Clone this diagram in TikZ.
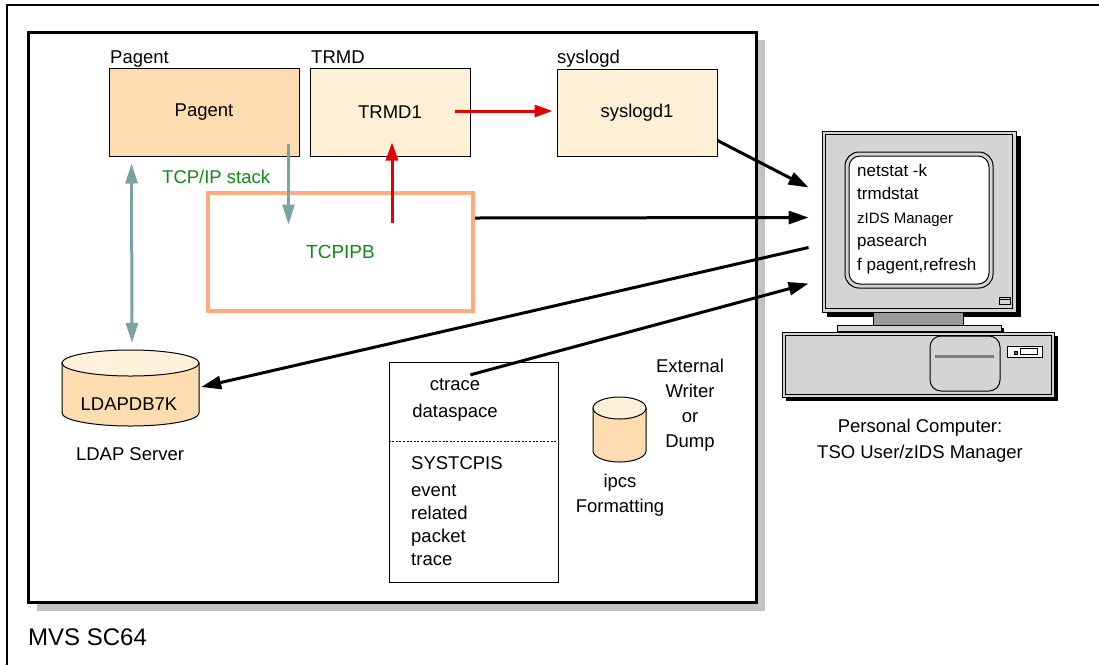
\documentclass[tikz,border=0pt]{standalone}
\usepackage{fontspec}
\setmainfont{Liberation Sans}
\usetikzlibrary{arrows.meta,calc}

\definecolor{pagentfill}{HTML}{FDDCAF}
\definecolor{creamfill}{HTML}{FFF0D6}
\definecolor{drumbody}{HTML}{FDDCAF}
\definecolor{drumtop}{HTML}{FFF1DA}
\definecolor{tealline}{HTML}{7BA3A3}
\definecolor{redline}{HTML}{E20000}
\definecolor{greentext}{HTML}{128A12}
\definecolor{orangeline}{HTML}{FFAA80}
\definecolor{shadowgray}{HTML}{C2C2C2}
\definecolor{pcgray}{HTML}{D4D4D4}
\definecolor{neckgray}{HTML}{9A9A9A}

% cylinder: centre x, top-ellipse y, bottom-ellipse y, x radius, y radius
\newcommand\drawdrum[5]{%
  \pgfmathsetmacro\drumL{#1-#4}\pgfmathsetmacro\drumR{#1+#4}%
  \filldraw[fill=drumbody,line width=1pt] (\drumL,#2) -- (\drumL,#3)
    arc[start angle=180,end angle=360,x radius=#4pt,y radius=#5pt] -- (\drumR,#2) -- cycle;
  \filldraw[fill=drumtop,line width=1pt] (#1,#2) ellipse[x radius=#4pt,y radius=#5pt];}

\tikzset{
  txt/.style={inner sep=0pt,font=\fontsize{18.5}{25}\selectfont},
  procbox/.style={draw,line width=1pt,inner sep=0pt,font=\fontsize{18.5}{25}\selectfont},
  blackarrow/.style={line width=3pt,-{Triangle[length=20pt,width=13pt]}},
  redarrow/.style={draw=redline,line width=3pt,-{Triangle[length=18pt,width=12pt]}},
  tealarrow/.style={draw=tealline,line width=3pt,-{Triangle[length=20pt,width=12pt]}},
  tealboth/.style={draw=tealline,line width=3pt,{Triangle[length=20pt,width=12pt]}-{Triangle[length=20pt,width=12pt]}},
}

\begin{document}
\begin{tikzpicture}[x=1pt,y=-1pt]
\useasboundingbox (0,0) rectangle (1099,665);

% outer page frame
\draw[line width=1.3pt] (7,665) -- (7,5) -- (1099,5);

% MVS system frame with drop shadow
\fill[shadowgray] (37,40) rectangle (765,611);
\draw[line width=3pt,fill=white] (28,32) rectangle (756,602);
\node[txt,anchor=base west,font=\fontsize{24}{28}\selectfont] (mvs) at (28,645) {MVS SC64};

% address spaces
\node[txt,anchor=base west] (pagentlbl) at (110,63) {Pagent};
\node[txt,anchor=base west] (trmdlbl) at (311,63) {TRMD};
\node[txt,anchor=base west] (sysloglbl) at (557,63) {syslogd};
\node[procbox,fill=pagentfill,minimum width=190pt,minimum height=88pt] (pagent) at (204,112) {Pagent};
\node[procbox,fill=creamfill,minimum width=160pt,minimum height=88pt] (trmd) at (390,112) {TRMD1};
\node[procbox,fill=creamfill,minimum width=160pt,minimum height=87pt] (syslog) at (637,112.5) {syslogd1};

% TCP/IP stack
\node[txt,anchor=base west,text=greentext] (stacklbl) at (162,183) {TCP/IP stack};
\node[draw=orangeline,line width=4pt,minimum width=265pt,minimum height=118pt,inner sep=0pt,
      text=greentext,font=\fontsize{19}{23}\selectfont] (tcpipb) at (340.5,252) {TCPIPB};

% LDAP server database
\drawdrum{130.5}{363}{413}{68.5}{13}
\node[minimum width=137pt,minimum height=77pt,inner sep=0pt] (ldap) at (130.5,388.5) {};
\node[txt,anchor=base] (ldapdb) at (129,410) {LDAPDB7K};
\node[txt,anchor=base] (ldapsrv) at (130,460) {LDAP Server};

% component trace dataspace
\node[draw,line width=1pt,minimum width=169pt,minimum height=220pt,inner sep=0pt] (ctracebox) at (473.5,472) {};
\draw[line width=0.8pt,dash pattern=on 2pt off 1.6pt] (ctracebox.west |- 0,441) -- (ctracebox.east |- 0,441);
\node[txt,anchor=base] (ctrace) at (455,390) {ctrace};
\node[txt,anchor=base] (dataspace) at (455,417) {dataspace};
\node[txt,anchor=base west] (systcpis) at (411,469) {SYSTCPIS};
\node[txt,anchor=north west,align=left,font=\fontsize{18.5}{23}\selectfont] (evtrace) at (411,484) {event\\related\\packet\\trace};

% external writer / dump dataset
\drawdrum{619.5}{408}{451}{26.5}{11}
\node[txt,anchor=north,align=center] (ipcs) at (620,473.5) {ipcs\\Formatting};
\node[txt,anchor=north,align=center] (extwriter) at (690,358.5) {External\\Writer\\or\\Dump};

% personal computer: monitor
\fill[black] (827,136) rectangle (1021,317);
\node[draw,line width=1pt,fill=pcgray,minimum width=194pt,minimum height=181pt,inner sep=0pt] (monitor) at (919,221.5) {};
\draw[line width=0.8pt] (825.5,134.5) rectangle (1012.5,308.5);
\draw[line width=1pt,fill=pcgray,rounded corners=14pt] (845,152) rectangle (993,288);
\draw[line width=1pt,fill=white,rounded corners=11pt] (849,156) rectangle (989,284);
\node[txt,anchor=north west,align=left,font=\fontsize{17}{23.5}\selectfont] (screen) at (857,163.5)
  {netstat -k\\trmdstat\\{\fontsize{15}{23.5}\selectfont zIDS Manager}\\pasearch\\f pagent,refresh};
\draw[line width=0.8pt] (999.5,297) rectangle (1010.5,304);
\draw[line width=0.8pt] (999.5,299.5) -- (1010.5,299.5);
% stand
\draw[line width=1pt,fill=neckgray] (873,312) rectangle (963,325);
\fill[black] (840,328) rectangle (1004,334);
\draw[line width=1pt,fill=pcgray] (837,325) rectangle (1001,331);
% system unit
\fill[black] (786,336) rectangle (1058,401);
\draw[line width=1pt,fill=pcgray] (782,332) rectangle (1054,397);
\draw[line width=0.8pt] (785,335) rectangle (1051,394);
\draw[line width=1pt,fill=pcgray,rounded corners=11pt] (930,336) rectangle (1000,391);
\draw[line width=2.2pt,neckgray!80!black] (935,356.5) -- (994,356.5);
\draw[line width=0.8pt,fill=white] (1007,346) rectangle (1042,357);
\draw[line width=0.8pt] (1020,348.5) rectangle (1037,354.5);
\draw[line width=0.6pt,fill=green!60!black] (1014,351) rectangle (1017,354);
\node[txt,anchor=base] (pclbl1) at (920,432) {Personal Computer:};
\node[txt,anchor=base] (pclbl2) at (920,458) {TSO User/zIDS Manager};

% connectors
\draw[tealarrow] ($(pagent.south east)+(-11,-13)$) -- ($(pagent.south east)+(-11,68)$);
\draw[tealboth] ($(pagent.south west)+(23,7)$) -- ($(ldap.north)+(1.5,-7)$);
\draw[redarrow] ($(tcpipb.north)+(51.5,32)$) -- ($(trmd.south)+(2,-14)$);
\draw[redarrow] ($(trmd.east)+(-16,-1)$) -- ($(syslog.west)+(-4,-1.5)$);
\draw[blackarrow] ($(syslog.east)+(0,28)$) -- ($(monitor.north west)+(-13,57)$);
\draw[blackarrow] ($(tcpipb.east)+(0,-34)$) -- ($(monitor.north west)+(-13,87)$);
\draw[blackarrow] ($(monitor.north west)+(-13,117)$) -- ($(ldap.east)+(2,-1.5)$);
\draw[blackarrow] ($(ctrace.north east)+(-10,-3)$) -- ($(monitor.north west)+(-13,153)$);
\end{tikzpicture}
\end{document}
